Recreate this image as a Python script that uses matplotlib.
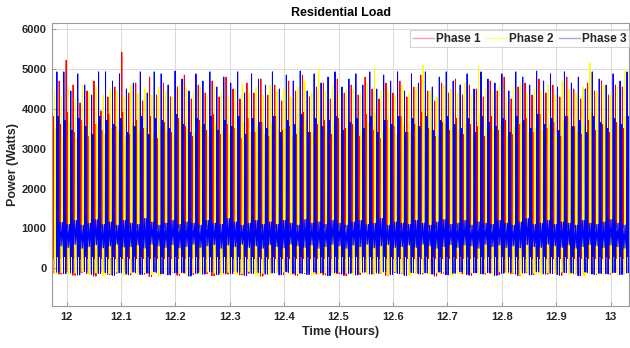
import numpy as np
import matplotlib
matplotlib.use("Agg")
import matplotlib.pyplot as plt

plt.rcParams['font.family'] = ['Liberation Sans', 'DejaVu Sans']
plt.rcParams['path.simplify'] = False

# ---- data: per-cycle readings for each phase (Watts) ----
T_START = 11.973          # hours
T_END = 13.034
labels = ["Phase 1", "Phase 2", "Phase 3"]

red_peak = [4350, 4700, 5220, 4600, 4150, 4450, 4700, 3950, 4300, 4550,
            5420, 4400, 4650, 4200, 4800, 4350, 4650, 4300, 4550, 4850,
            4250, 4600, 4400, 4700, 4300, 4800, 4500, 4250, 4650, 4400,
            4750, 4350, 4600, 4200, 4700, 4450, 4850, 4300, 4550, 4650,
            4250, 4750, 4400, 4600, 4350, 4800, 4500, 4250, 4650, 4400,
            4700, 4300, 4550, 4850, 4450, 4200, 4650, 4400, 4750, 4350,
            4600, 4500, 4300, 4700, 4450, 4800, 4250, 4550, 4650, 4350,
            4750, 4400, 4600, 4300, 4800, 4500, 4250, 4650, 4450, 4700,
            4350, 4600, 4550]
yellow_peak = [4450, 4300, 4500, 4250, 4600, 4400, 4550, 4350, 4500, 4450,
               4300, 4600, 4400, 4500, 4350, 4550, 4450, 4300, 4600, 4500,
               4400, 4550, 4350, 4600, 4450, 4300, 4500, 4650, 4400, 4550,
               4350, 4600, 4450, 4500, 4300, 4550, 4700, 4400, 5000, 4450,
               4600, 4350, 4500, 4550, 4400, 4650, 5030, 4450, 4500, 4350,
               4600, 4400, 4550, 5100, 4450, 4300, 4600, 4500, 4400, 4650,
               4350, 5080, 4500, 4450, 4600, 4300, 4550, 4650, 4400, 4500,
               4450, 4600, 4350, 4700, 4500, 4400, 4550, 5150, 4450, 4600,
               4350, 4550, 5000]
blue_peak = [4930, 4930, 4450, 4880, 4600, 4350, 4930, 4930, 4700, 4880,
             4500, 4650, 4930, 4400, 4930, 4880, 4600, 4950, 4750, 4450,
             4880, 4700, 4930, 4550, 4800, 4650, 4930, 4400, 4880, 4750,
             4600, 4930, 4500, 4850, 4700, 4950, 4450, 4880, 4650, 4800,
             4930, 4550, 4750, 4880, 4600, 4930, 4500, 4850, 4700, 4930,
             4450, 4880, 4650, 4930, 4550, 4800, 4930, 4700, 4600, 4880,
             4500, 4930, 4750, 4650, 4880, 4450, 4930, 4800, 4600, 4950,
             4700, 4880, 4550, 4930, 4650, 4800, 4500, 4930, 4750, 4600,
             4880, 4700, 4930]

red_body = [3800, 3600, 3900, 3400, 3700, 3300, 3600, 3450, 3850, 3550,
            3900, 3350, 3700, 3500, 3800, 3250, 3650, 3400, 3750, 3550,
            3300, 3700, 3450, 3850, 3350, 3600, 3500, 3250, 3750, 3400,
            3650, 3300, 3800, 3450, 3550, 3350, 3900, 3400, 3600, 3700,
            3350, 3750, 3500, 3600, 3300, 3850, 3450, 3250, 3700, 3550,
            3800, 3400, 3600, 3900, 3500, 3300, 3650, 3450, 3750, 3350,
            3600, 3550, 3300, 3800, 3450, 3700, 3350, 3600, 3750, 3400,
            3850, 3500, 3650, 3300, 3800, 3550, 3350, 3700, 3450, 3600,
            3400, 3650, 3500]
yellow_body = [3500, 3300, 3650, 3250, 3550, 3400, 3600, 3350, 3500, 3450,
               3300, 3600, 3450, 3500, 3350, 3550, 3400, 3300, 3650, 3500,
               3400, 3550, 3300, 3600, 3450, 3350, 3500, 3650, 3400, 3550,
               3350, 3600, 3450, 3500, 3300, 3550, 3700, 3400, 3800, 3450,
               3600, 3350, 3500, 3550, 3400, 3650, 3850, 3450, 3500, 3350,
               3600, 3400, 3550, 3900, 3450, 3300, 3600, 3500, 3400, 3650,
               3350, 3850, 3500, 3450, 3600, 3300, 3550, 3650, 3400, 3500,
               3450, 3600, 3350, 3700, 3500, 3400, 3550, 3900, 3450, 3600,
               3350, 3550, 3800]
blue_body = [3800, 3700, 3450, 3750, 3550, 3350, 3800, 3700, 3600, 3750,
             3400, 3550, 3800, 3350, 3750, 3700, 3500, 3850, 3600, 3400,
             3750, 3600, 3800, 3450, 3700, 3550, 3800, 3350, 3750, 3650,
             3500, 3800, 3400, 3700, 3600, 3850, 3400, 3750, 3550, 3700,
             3800, 3450, 3650, 3750, 3500, 3800, 3400, 3700, 3600, 3800,
             3400, 3750, 3550, 3800, 3450, 3700, 3800, 3600, 3500, 3750,
             3400, 3800, 3650, 3550, 3750, 3400, 3800, 3700, 3500, 3850,
             3600, 3750, 3450, 3800, 3550, 3700, 3400, 3800, 3650, 3500,
             3750, 3600, 3800]

red_trough = [-120, -150, -90, -180, -110, -140, -200, -100, -160, -130,
              -90, -170, -120, -150, -210, -110, -140, -100, -180, -130,
              -160, -100, -140, -190, -120, -150, -90, -170, -130, -110,
              -200, -140, -100, -160, -120, -180, -130, -90, -150, -170,
              -110, -140, -190, -120, -160, -100, -150, -130, -180, -110,
              -140, -170, -100, -150, -120, -200, -130, -160, -90, -140,
              -180, -110, -150, -130, -170, -100, -140, -190, -120, -160,
              -100, -150, -130, -180, -110, -140, -170, -120, -160, -130,
              -150, -110, -140]
yellow_trough = [-150, -110, -170, -130, -90, -160, -120, -190, -140, -100,
                 -180, -120, -150, -110, -160, -200, -130, -90, -140, -170,
                 -120, -150, -100, -130, -180, -110, -160, -140, -90, -190,
                 -130, -160, -120, -100, -170, -140, -110, -180, -150, -120,
                 -160, -100, -130, -190, -110, -150, -140, -120, -170, -90,
                 -130, -180, -150, -110, -160, -120, -100, -190, -140, -130,
                 -110, -160, -120, -170, -90, -150, -130, -180, -110, -140,
                 -170, -120, -150, -100, -160, -130, -190, -110, -140, -150,
                 -120, -170, -130]
blue_trough = [-100, -140, -120, -170, -90, -150, -130, -110, -180, -120,
               -150, -100, -160, -130, -90, -140, -170, -120, -110, -200,
               -130, -150, -90, -160, -120, -140, -100, -180, -130, -110,
               -150, -120, -170, -90, -140, -130, -160, -100, -120, -190,
               -110, -150, -130, -170, -100, -140, -120, -90, -160, -130,
               -180, -110, -140, -120, -150, -100, -170, -130, -90, -160,
               -120, -140, -110, -180, -130, -100, -150, -120, -170, -90,
               -140, -130, -160, -110, -120, -190, -100, -150, -130, -140,
               -110, -160, -120]

# idle band between events (phase 3 is plotted on top of the others)
blue_lo = [560, 520, 600, 500, 540, 590, 510, 560, 600, 530,
           540, 580, 500, 600, 560, 520, 590, 510, 540, 600,
           520, 560, 590, 500, 580, 540, 600, 520, 560, 500,
           590, 540, 510, 600, 560, 520, 580, 500, 540, 600,
           560, 500, 580, 540, 600, 510, 560, 590, 520, 540,
           580, 520, 600, 560, 500, 540, 590, 520, 580, 560,
           500, 600, 540, 580, 520, 560, 510, 590, 540, 520,
           600, 560, 520, 580, 500, 540, 590, 560, 520, 580,
           540, 500, 560]
blue_hi = [1150, 1100, 1200, 1080, 1130, 1220, 1100, 1160, 1080, 1200,
           1130, 1100, 1250, 1160, 1080, 1130, 1200, 1100, 1160, 1130,
           1080, 1200, 1130, 1100, 1250, 1160, 1080, 1130, 1200, 1100,
           1160, 1100, 1200, 1130, 1080, 1220, 1130, 1160, 1100, 1200,
           1130, 1080, 1160, 1200, 1100, 1130, 1250, 1080, 1160, 1130,
           1100, 1200, 1130, 1080, 1160, 1220, 1100, 1130, 1200, 1080,
           1160, 1130, 1100, 1200, 1130, 1080, 1160, 1250, 1100, 1130,
           1200, 1100, 1160, 1130, 1080, 1200, 1130, 1100, 1160, 1220,
           1130, 1080, 1160]
red_idle_lo, red_idle_hi = 650, 1050
yellow_idle_lo, yellow_idle_hi = 620, 1000
red_mid = 250
yellow_mid = 280
blue_mid = 300

x_ticks = [12, 12.1, 12.2, 12.3, 12.4, 12.5, 12.6, 12.7, 12.8, 12.9, 13]
x_ticklabels = ["12", "12.1", "12.2", "12.3", "12.4", "12.5", "12.6",
                "12.7", "12.8", "12.9", "13"]
y_ticks = [0, 1000, 2000, 3000, 4000, 5000, 6000]

# ---- assemble each phase's sampled waveform ----
PERIOD = (T_END - T_START) / len(red_peak)
# sample positions inside one cycle (fraction of the period)
SAMPLE_POS = np.array([0.00, 0.04, 0.08, 0.12, 0.16, 0.20, 0.24, 0.28, 0.32,
                       0.38, 0.50, 0.62, 0.74, 0.86, 0.96])


def as_series(v, n):
    if np.ndim(v) == 0:
        return np.full(n, float(v))
    return np.asarray(v[:n], float)


def waveform(start, peak, body, trough, mid, lo, hi):
    n = min(len(peak), len(body), len(trough))
    pk, bd, tr = as_series(peak, n), as_series(body, n), as_series(trough, n)
    md, lo, hi = as_series(mid, n), as_series(lo, n), as_series(hi, n)
    vals = np.column_stack([tr, pk, md, bd, md, bd, md, bd, tr,
                            hi, lo, hi, lo, hi, lo])
    times = start + (np.arange(n)[:, None] + SAMPLE_POS[None, :]) * PERIOD
    return times.ravel(), vals.ravel()


t1, p1 = waveform(T_START, red_peak, red_body, red_trough, red_mid,
                  red_idle_lo, red_idle_hi)
t2, p2 = waveform(T_START + PERIOD / 3, yellow_peak, yellow_body, yellow_trough,
                  yellow_mid, yellow_idle_lo, yellow_idle_hi)
t3, p3 = waveform(T_START + 2 * PERIOD / 3, blue_peak, blue_body, blue_trough,
                  blue_mid, blue_lo, blue_hi)

# ---- figure ----
fig = plt.figure(figsize=(6.3, 3.48), dpi=100)
ax = fig.add_axes([0.0825, 0.1207, 0.916, 0.8124])

lw = 0.7
ax.plot(t1, p1, color="#ff0000", lw=lw, label=labels[0])
ax.plot(t2, p2, color="#ffff00", lw=lw, label=labels[1])
ax.plot(t3, p3, color="#0000ff", lw=lw, label=labels[2])

ax.set_xlim(T_START, T_END)
ax.set_ylim(-950, 6150)
ax.set_xticks(x_ticks)
ax.set_xticklabels(x_ticklabels)
ax.set_yticks(y_ticks)

ax.grid(True, color="#d4d4d4", lw=0.6)
ax.set_axisbelow(True)
for s in ax.spines.values():
    s.set_color("#9a9a9a")
    s.set_linewidth(0.8)
ax.tick_params(direction="in", length=3, color="#9a9a9a", labelcolor="#262626",
               labelsize=8, pad=4)
for lab in ax.get_xticklabels() + ax.get_yticklabels():
    lab.set_fontweight("bold")

ax.set_title("Residential Load", fontsize=9, fontweight="bold", color="#000000", pad=5)
ax.set_xlabel("Time (Hours)", fontsize=9, fontweight="bold", color="#262626", labelpad=3)
ax.set_ylabel("Power (Watts)", fontsize=9, fontweight="bold", color="#262626", labelpad=2)

leg = ax.legend(loc="upper right", ncol=3, fontsize=8.5, frameon=True, fancybox=False,
                bbox_to_anchor=(1.0, 0.975), borderaxespad=0.0, handlelength=1.8,
                handletextpad=0.2, columnspacing=0.4, borderpad=0.2)
leg.get_frame().set_edgecolor("#c8c8c8")
leg.get_frame().set_linewidth(0.8)
for h, c in zip(leg.get_lines(), ["#f0a0b0", "#ffff90", "#a8a8d8"]):
    h.set_color(c)
    h.set_linewidth(1.0)
for txt in leg.get_texts():
    txt.set_fontweight("bold")
    txt.set_color("#262626")

fig.savefig("out.png", dpi=100)
